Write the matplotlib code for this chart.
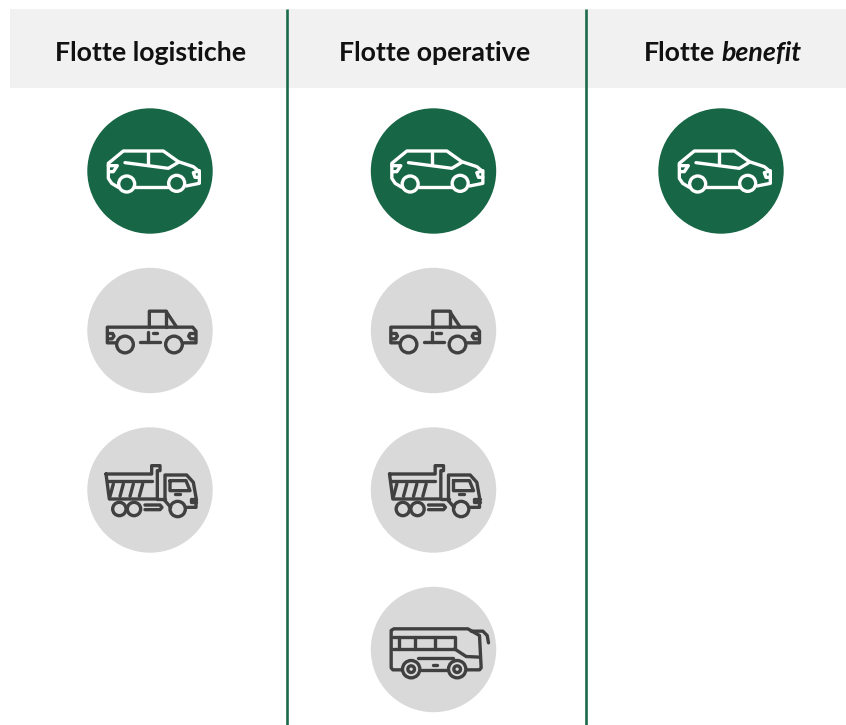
import matplotlib
matplotlib.use("Agg")
import matplotlib.pyplot as plt
from matplotlib.patches import Circle, Rectangle

# --- chart content ---------------------------------------------------------
col_titles = ["Flotte logistiche", "Flotte operative", "Flotte benefit"]
fleet_logistiche = ["auto", "pickup", "camion"]
fleet_operative = ["auto", "pickup", "camion", "bus"]
fleet_benefit = ["auto"]
fleets = [fleet_logistiche, fleet_operative, fleet_benefit]
active_vehicle = "auto"

GREEN = "#176645"
LINE_GREEN = "#1B6B4B"
GREY = "#D9D9D9"
BAND = "#F1F1F1"
DARK = "#404040"
col_x = [150, 433.5, 721]
row_y = [171, 330.5, 490, 649.5]
R = 62.7
LW = 2.4

# --- pictograms: strokes and wheels in 3x-crop units about the circle centre -
CAR = dict(
    c=(210, 213),
    lines=[
        [(115, 262), (95, 250), (85, 235), (85, 190), (130, 153), (250, 153), (295, 185),
         (340, 200), (358, 215), (358, 250), (318, 258)],
        [(165, 262), (265, 262)],
        [(135, 188), (265, 205), (295, 187)],
        [(205, 155), (205, 195)],
        [(85, 197), (112, 197), (100, 215), (88, 215)],
        [(358, 212), (340, 218), (345, 232), (358, 232)],
    ],
    wheels=[(140, 252, 24), (290, 250, 24)],
)
PICKUP = dict(
    c=(210, 213),
    lines=[
        [(108, 250), (82, 250), (82, 203), (338, 203), (348, 215), (348, 250), (312, 250)],
        [(208, 203), (208, 155), (258, 155), (290, 203)],
        [(258, 155), (258, 203)],
        [(180, 248), (240, 248)],
        [(205, 218), (205, 248)],
        [(218, 220), (232, 220)],
        [(84, 222), (98, 222), (102, 230), (96, 238), (84, 238)],
        [(346, 222), (330, 222), (326, 230), (332, 238), (346, 238)],
    ],
    wheels=[(135, 255, 25), (282, 255, 25)],
)
TRUCK = dict(
    c=(210, 213),
    lines=[
        [(78, 165), (215, 165), (215, 140), (240, 140), (240, 155), (232, 155), (232, 240),
         (88, 240), (78, 165)],
        [(85, 185), (215, 185)],
        [(100, 195), (90, 232)], [(130, 195), (120, 232)],
        [(160, 195), (150, 232)], [(188, 195), (178, 232)],
        [(255, 245), (255, 168), (320, 168), (340, 190), (348, 235), (348, 265), (318, 265)],
        [(255, 245), (272, 265)],
        [(270, 185), (318, 185), (330, 215), (270, 215), (270, 185)],
        [(285, 225), (300, 225)],
        [(232, 240), (255, 240)],
        [(195, 258), (240, 258), (246, 265), (240, 272), (195, 272)],
        [(348, 240), (332, 240), (332, 250), (348, 250)],
    ],
    wheels=[(118, 270, 20), (162, 270, 20), (293, 270, 23)],
)
BUS = dict(
    c=(207, 207),
    lines=[
        [(112, 268), (85, 268), (80, 262), (80, 150), (88, 145), (310, 145), (345, 165),
         (350, 262), (345, 268), (308, 268)],
        [(320, 152), (355, 152), (368, 165), (372, 187)],
        [(85, 168), (270, 168), (270, 205), (85, 205)],
        [(103, 168), (103, 205)], [(150, 168), (150, 205)], [(210, 168), (210, 205)],
        [(270, 205), (305, 228), (347, 230)],
        [(170, 268), (250, 268)],
        [(160, 232), (265, 232)],
        [(205, 252), (218, 252)],
    ],
    wheels=[(140, 266, 26), (140, 266, 10), (278, 266, 26), (278, 266, 10)],
)
ICONS = {"auto": CAR, "pickup": PICKUP, "camion": TRUCK, "bus": BUS}

# --- figure ------------------------------------------------------------------
fig = plt.figure(figsize=(8.46, 7.25), dpi=100)
ax = fig.add_axes([0, 0, 1, 1])
ax.set_xlim(0, 846)
ax.set_ylim(725, 0)
ax.axis("off")

ax.add_patch(Rectangle((10, 9), 836, 79, fc=BAND, ec="none", zorder=1))
for x in (287, 586):
    ax.plot([x, x], [9, 725], color=LINE_GREEN, lw=1.9, solid_capstyle="butt", zorder=2)

tkw = dict(family="Lato", weight="bold", fontsize=19.3, color="#111111", va="center", zorder=3)
ax.text(150.5, 52.5, col_titles[0], ha="center", **tkw)
ax.text(435, 52.5, col_titles[1], ha="center", **tkw)
head, tail = col_titles[2].split(" ")
ax.text(644, 52.5, head, ha="left", **tkw)
ax.text(721, 52.5, tail, ha="left", style="italic", **tkw)


def draw_icon(cx, cy, icon, color):
    ox, oy = icon["c"]
    tr = lambda p: (cx + (p[0] - ox) / 3, cy + (p[1] - oy) / 3)
    for stroke in icon["lines"]:
        pts = [tr(p) for p in stroke]
        ax.plot(*zip(*pts), color=color, lw=LW, solid_capstyle="round",
                solid_joinstyle="round", zorder=5)
    for wx, wy, wr in icon["wheels"]:
        ax.add_patch(Circle(tr((wx, wy)), wr / 3, fc="none", ec=color, lw=LW, zorder=5))


for x, fleet in zip(col_x, fleets):
    for y, vehicle in zip(row_y, fleet):
        on = vehicle == active_vehicle
        ax.add_patch(Circle((x, y), R, fc=GREEN if on else GREY, ec="none", zorder=4))
        draw_icon(x, y, ICONS[vehicle], "white" if on else DARK)

fig.savefig("out.png", dpi=100, facecolor="white")
